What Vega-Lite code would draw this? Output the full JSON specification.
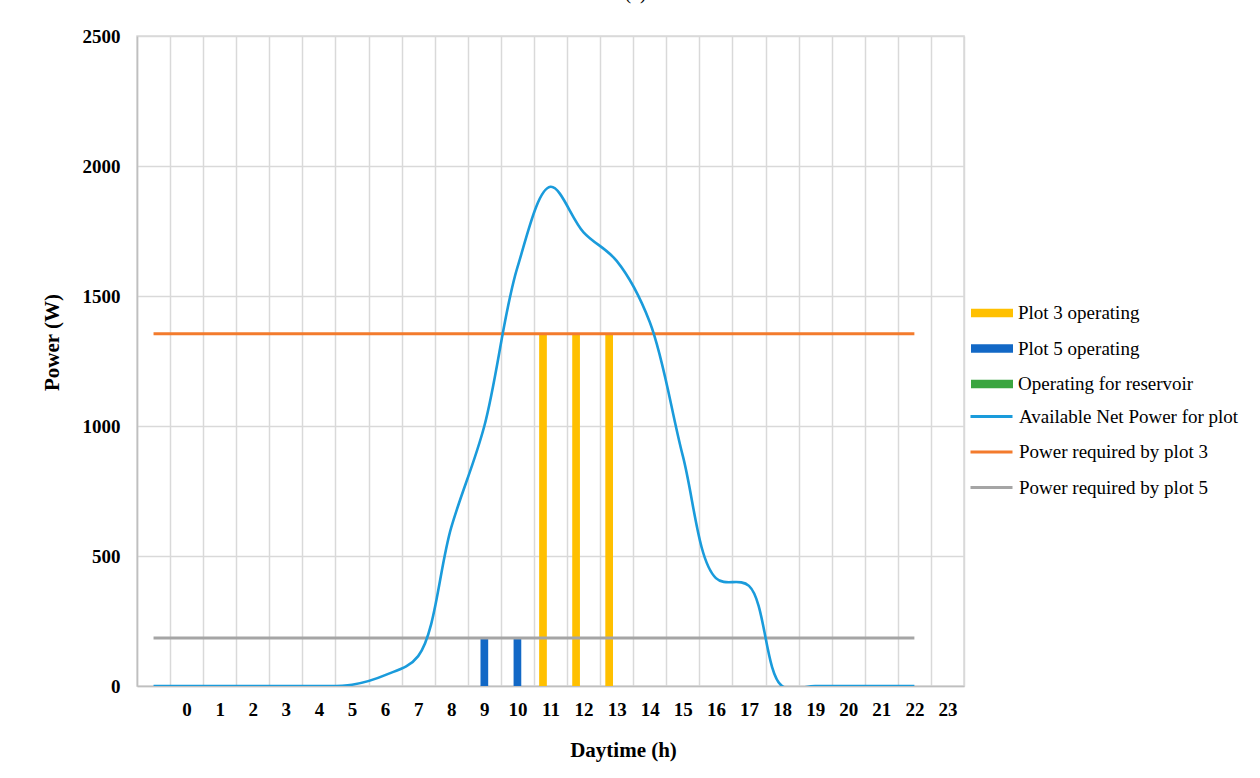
{
  "$schema": "https://vega.github.io/schema/vega-lite/v6.json",
  "autosize": "none",
  "width": 827,
  "height": 650,
  "padding": {"left": 137, "top": 36, "right": 296, "bottom": 92},
  "background": "white",
  "title": {"text": "(c)", "fontSize": 20, "font": "Liberation Serif", "fontWeight": "normal", "anchor": "middle", "dx": 85, "offset": 24, "color": "black"},
  "config": {
    "view": {"stroke": "#d9d9d9", "strokeWidth": 1.5},
    "axis": {"gridColor": "#d9d9d9", "gridWidth": 1.5, "labelFont": "Liberation Serif", "labelFontWeight": "bold", "labelFontSize": 19, "labelColor": "black", "titleFont": "Liberation Serif", "titleFontWeight": "bold", "titleFontSize": 21, "titleColor": "black", "ticks": false, "domainColor": "#bfbfbf", "domainWidth": 1.5},
    "legend": {"labelFont": "Liberation Serif", "labelFontSize": 19, "labelColor": "black", "labelLimit": 400, "title": null, "orient": "none", "padding": 0, "labelOffset": 5}
  },
  "datasets": {
    "net": [
      {"h": -1, "series": "Available Net Power for plot", "W": 0},
      {"h": 0, "series": "Available Net Power for plot", "W": 0},
      {"h": 1, "series": "Available Net Power for plot", "W": 0},
      {"h": 2, "series": "Available Net Power for plot", "W": 0},
      {"h": 3, "series": "Available Net Power for plot", "W": 0},
      {"h": 4, "series": "Available Net Power for plot", "W": 0},
      {"h": 5, "series": "Available Net Power for plot", "W": 5},
      {"h": 6, "series": "Available Net Power for plot", "W": 42},
      {"h": 7, "series": "Available Net Power for plot", "W": 115},
      {"h": 8, "series": "Available Net Power for plot", "W": 610},
      {"h": 9, "series": "Available Net Power for plot", "W": 1000},
      {"h": 10, "series": "Available Net Power for plot", "W": 1610},
      {"h": 11, "series": "Available Net Power for plot", "W": 1920},
      {"h": 12, "series": "Available Net Power for plot", "W": 1745},
      {"h": 13, "series": "Available Net Power for plot", "W": 1635},
      {"h": 14, "series": "Available Net Power for plot", "W": 1400},
      {"h": 15, "series": "Available Net Power for plot", "W": 885},
      {"h": 16, "series": "Available Net Power for plot", "W": 415},
      {"h": 17, "series": "Available Net Power for plot", "W": 385},
      {"h": 18, "series": "Available Net Power for plot", "W": 0},
      {"h": 19, "series": "Available Net Power for plot", "W": 0},
      {"h": 20, "series": "Available Net Power for plot", "W": 0},
      {"h": 21, "series": "Available Net Power for plot", "W": 0},
      {"h": 22, "series": "Available Net Power for plot", "W": 0}
    ],
    "req": [
      {"h": -1, "series": "Power required by plot 3", "W": 1355},
      {"h": 0, "series": "Power required by plot 3", "W": 1355},
      {"h": 1, "series": "Power required by plot 3", "W": 1355},
      {"h": 2, "series": "Power required by plot 3", "W": 1355},
      {"h": 3, "series": "Power required by plot 3", "W": 1355},
      {"h": 4, "series": "Power required by plot 3", "W": 1355},
      {"h": 5, "series": "Power required by plot 3", "W": 1355},
      {"h": 6, "series": "Power required by plot 3", "W": 1355},
      {"h": 7, "series": "Power required by plot 3", "W": 1355},
      {"h": 8, "series": "Power required by plot 3", "W": 1355},
      {"h": 9, "series": "Power required by plot 3", "W": 1355},
      {"h": 10, "series": "Power required by plot 3", "W": 1355},
      {"h": 11, "series": "Power required by plot 3", "W": 1355},
      {"h": 12, "series": "Power required by plot 3", "W": 1355},
      {"h": 13, "series": "Power required by plot 3", "W": 1355},
      {"h": 14, "series": "Power required by plot 3", "W": 1355},
      {"h": 15, "series": "Power required by plot 3", "W": 1355},
      {"h": 16, "series": "Power required by plot 3", "W": 1355},
      {"h": 17, "series": "Power required by plot 3", "W": 1355},
      {"h": 18, "series": "Power required by plot 3", "W": 1355},
      {"h": 19, "series": "Power required by plot 3", "W": 1355},
      {"h": 20, "series": "Power required by plot 3", "W": 1355},
      {"h": 21, "series": "Power required by plot 3", "W": 1355},
      {"h": 22, "series": "Power required by plot 3", "W": 1355},
      {"h": -1, "series": "Power required by plot 5", "W": 185},
      {"h": 0, "series": "Power required by plot 5", "W": 185},
      {"h": 1, "series": "Power required by plot 5", "W": 185},
      {"h": 2, "series": "Power required by plot 5", "W": 185},
      {"h": 3, "series": "Power required by plot 5", "W": 185},
      {"h": 4, "series": "Power required by plot 5", "W": 185},
      {"h": 5, "series": "Power required by plot 5", "W": 185},
      {"h": 6, "series": "Power required by plot 5", "W": 185},
      {"h": 7, "series": "Power required by plot 5", "W": 185},
      {"h": 8, "series": "Power required by plot 5", "W": 185},
      {"h": 9, "series": "Power required by plot 5", "W": 185},
      {"h": 10, "series": "Power required by plot 5", "W": 185},
      {"h": 11, "series": "Power required by plot 5", "W": 185},
      {"h": 12, "series": "Power required by plot 5", "W": 185},
      {"h": 13, "series": "Power required by plot 5", "W": 185},
      {"h": 14, "series": "Power required by plot 5", "W": 185},
      {"h": 15, "series": "Power required by plot 5", "W": 185},
      {"h": 16, "series": "Power required by plot 5", "W": 185},
      {"h": 17, "series": "Power required by plot 5", "W": 185},
      {"h": 18, "series": "Power required by plot 5", "W": 185},
      {"h": 19, "series": "Power required by plot 5", "W": 185},
      {"h": 20, "series": "Power required by plot 5", "W": 185},
      {"h": 21, "series": "Power required by plot 5", "W": 185},
      {"h": 22, "series": "Power required by plot 5", "W": 185}
    ],
    "bars": [
      {"h": 9, "series": "Plot 5 operating", "W": 185},
      {"h": 10, "series": "Plot 5 operating", "W": 185},
      {"h": 11, "series": "Plot 3 operating", "W": 1355},
      {"h": 12, "series": "Plot 3 operating", "W": 1355},
      {"h": 13, "series": "Plot 3 operating", "W": 1355}
    ]
  },
  "encoding": {
    "x": {"field": "h", "type": "quantitative", "scale": {"domain": [-1.5, 23.5], "nice": false, "zero": false, "padding": 0},
      "axis": {"title": "Daytime (h)", "titleX": 486, "titleY": 64, "titleBaseline": "middle", "titleAnchor": null,
        "values": [-1.5,-1,-0.5,0,0.5,1,1.5,2,2.5,3,3.5,4,4.5,5,5.5,6,6.5,7,7.5,8,8.5,9,9.5,10,10.5,11,11.5,12,12.5,13,13.5,14,14.5,15,15.5,16,16.5,17,17.5,18,18.5,19,19.5,20,20.5,21,21.5,22,22.5,23,23.5],
        "labelExpr": "datum.value >= 0 && datum.value % 1 == 0 ? format(datum.value, 'd') : ''",
        "gridOpacity": {"condition": {"test": "datum.value % 1 != 0", "value": 1}, "value": 0},
        "labelPadding": 14, "labelOverlap": false, "labelFlush": false, "labelBound": false}},
    "y": {"field": "W", "type": "quantitative", "scale": {"domain": [0, 2500], "nice": false},
      "axis": {"title": "Power (W)", "format": "d", "values": [0, 500, 1000, 1500, 2000, 2500], "labelPadding": 17, "titleX": -85, "titleY": 306, "titleBaseline": "middle", "titleAnchor": null, "titleAlign": "center"}}
  },
  "layer": [
    {
      "data": {"name": "bars"},
      "transform": [{"filter": "datum.series == 'Plot 5 operating'"}],
      "mark": {"type": "bar", "width": 7.7, "clip": true},
      "encoding": {
        "fill": {"field": "series", "type": "nominal",
          "scale": {"domain": ["Plot 3 operating", "Plot 5 operating", "Operating for reservoir"], "range": ["#FFC000", "#1268C6", "#3AA540"]},
          "legend": {"legendX": 834, "legendY": 256, "rowPadding": 4.5, "symbolType": "M-1,-0.2H1V0.2H-1Z", "symbolSize": 1764, "symbolStrokeWidth": 0}}
      }
    },
    {
      "data": {"name": "bars"},
      "transform": [{"filter": "datum.series == 'Plot 3 operating'"}],
      "mark": {"type": "bar", "width": 7.7, "xOffset": -7.5, "clip": true},
      "encoding": {
        "fill": {"field": "series", "type": "nominal"}
      }
    },
    {
      "data": {"name": "req"},
      "mark": {"type": "line", "strokeWidth": 3, "clip": true},
      "encoding": {
        "stroke": {"field": "series", "type": "nominal",
          "scale": {"domain": ["Available Net Power for plot", "Power required by plot 3", "Power required by plot 5"], "range": ["#1A9BDB", "#F37B2D", "#A5A5A5"]},
          "legend": {"legendX": 832, "legendY": 358, "rowPadding": 2.5, "symbolType": "stroke", "symbolSize": 1764, "symbolStrokeWidth": 3}}
      }
    },
    {
      "data": {"name": "net"},
      "mark": {"type": "line", "strokeWidth": 2.6, "interpolate": "catmull-rom", "clip": true},
      "encoding": {
        "stroke": {"field": "series", "type": "nominal"}
      }
    }
  ]
}
